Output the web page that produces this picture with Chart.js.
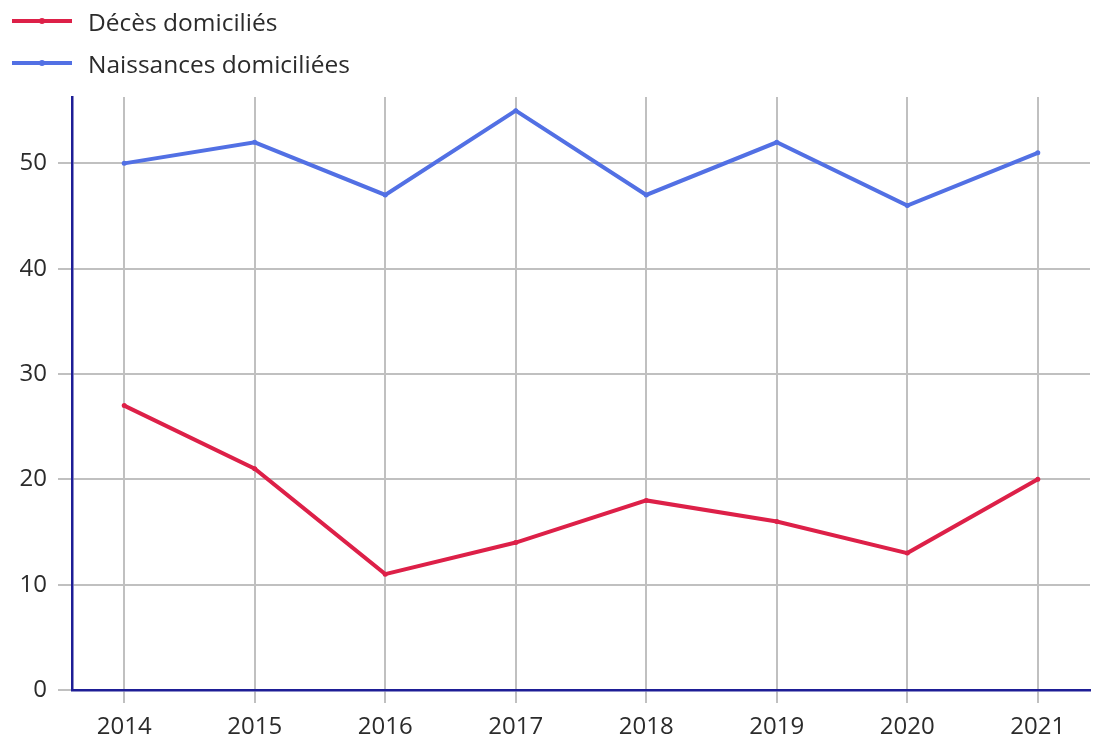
<!DOCTYPE html>
<html>
<head>
<meta charset="utf-8">
<script src="https://cdn.jsdelivr.net/npm/chart.js@4"></script>
<style>
    body { margin: 0; background: #fff; font-family: "Open Sans", sans-serif; }
    #wrap { position: relative; width: 1094px; height: 744px; }
    #legende { position: absolute; left: 12px; top: 0px; }
    .item { display: flex; align-items: center; height: 42px; font-size: 24.5px; color: #2b2b2b; }
    .trait { position: relative; width: 60px; height: 4px; margin-right: 16px; }
    .trait span { position: absolute; left: 27px; top: -1px; width: 6px; height: 6px; border-radius: 3px; }
</style>
</head>
<body>
<div id="wrap">
    <canvas id="myChart" width="1094" height="744"></canvas>
    <div id="legende"></div>
</div>
<script>
const annees = [2014, 2015, 2016, 2017, 2018, 2019, 2020, 2021];
const deces = [27, 21, 11, 14, 18, 16, 13, 20];
const naissances = [50, 52, 47, 55, 47, 52, 46, 51];
const yTicks = [0, 10, 20, 30, 40, 50];
const rouge = 'rgb(221, 32, 72)';
const bleu = 'rgb(82, 112, 228)';
const axe = 'rgb(30, 30, 150)';
const grille = 'rgb(192, 192, 192)';

const points = (valeurs) => valeurs.map((v, i) => ({x: annees[i], y: v}));

const datasets = [
    {label: 'Décès domiciliés', data: points(deces), borderColor: rouge, backgroundColor: rouge},
    {label: 'Naissances domiciliées', data: points(naissances), borderColor: bleu, backgroundColor: bleu}
];

let ctx = document.getElementById('myChart').getContext('2d');

var myChart = new Chart(ctx, {
    type: 'line',
    data: {datasets: datasets},
    options: {
        responsive: false,
        animation: false,
        layout: {padding: {top: 97, left: 0, right: 0, bottom: 0}},
        elements: {
            line: {borderWidth: 4, tension: 0},
            point: {radius: 2.5, borderWidth: 0}
        },
        plugins: {legend: {display: false}, tooltip: {enabled: false}},
        scales: {
            x: {
                type: 'linear',
                min: 2013.6,
                max: 2021.4,
                afterBuildTicks: (s) => { s.ticks = annees.map(v => ({value: v})); },
                afterFit: (s) => { s.height = 54; },
                grid: {color: grille, lineWidth: 2, tickLength: 13},
                border: {color: axe, width: 2.5},
                ticks: {
                    padding: 10,
                    color: '#2b2b2b',
                    font: {family: 'Open Sans', size: 24},
                    callback: (v) => String(v)
                }
            },
            y: {
                min: 0,
                max: 56.3,
                afterBuildTicks: (s) => { s.ticks = yTicks.map(v => ({value: v})); },
                afterFit: (s) => { s.width = 72; },
                grid: {color: grille, lineWidth: 2, tickLength: 14},
                border: {color: axe, width: 2.5},
                ticks: {
                    padding: 11,
                    color: '#2b2b2b',
                    font: {family: 'Open Sans', size: 24}
                }
            }
        }
    }
});

// legende verticale
const legende = document.getElementById('legende');
datasets.forEach(d => {
    legende.innerHTML += '<div class="item"><div class="trait" style="background:' + d.borderColor +
        '"><span style="background:' + d.borderColor + '"></span></div>' + d.label + '</div>';
});
</script>
</body>
</html>
